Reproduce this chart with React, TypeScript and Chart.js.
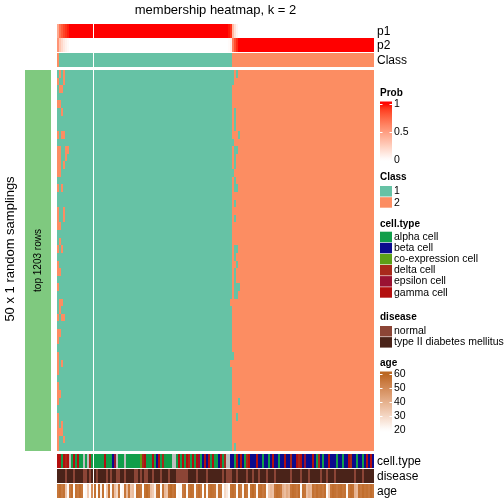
import React, { useEffect, useRef } from "react";
import { Chart, registerables } from "chart.js";

Chart.register(...registerables);

const FONT = "'Liberation Sans', Arial, Helvetica, sans-serif";

const TITLE = "membership heatmap, k = 2";
const ROW_TITLE = "50 x 1 random samplings";
const ROW_ANNO_LABEL = "top 1203 rows";
const N_SAMPLINGS = 50;

const TOP_LABELS = ["p1", "p2", "Class"];
const BOTTOM_LABELS = ["cell.type", "disease", "age"];

const CLASS_LABELS = ["1", "2"];
const CLASS_COLORS = ["#66C2A5", "#FC8D62"];

const CELL_TYPES = ["alpha cell", "beta cell", "co-expression cell", "delta cell", "epsilon cell", "gamma cell"];
const CELL_TYPE_CODES = ["a", "b", "c", "d", "e", "g"];
const CELL_TYPE_COLORS = ["#119E4A", "#0B0B8E", "#5C9F17", "#A8291B", "#9A1232", "#B30F0F"];
const NA_COLOR = "#BEBEBE";

const DISEASES = ["normal", "type II diabetes mellitus"];
const DISEASE_CODES = ["N", "T"];
const DISEASE_COLORS = ["#8C4536", "#4A2319"];

const PROB_TICKS = [1, 0.5, 0];
const AGE_TICKS = [60, 50, 40, 30, 20];
const AGE_RANGE = [20, 60];
const PROB_HIGH = [255, 0, 0];
const AGE_HIGH = [188, 103, 34];
const ROW_ANNO_COLOR = "#7FC97F";

// ---- column data (left group of 18 samples, right group of 140 samples) ----
const cellTypeLeft = "ggagdgnagagaananda";
const cellTypeRight =
  "aaaaagaaab" + "enaaanaaaa" + "aaacdgaaag" + "abgadaaaan" + "nagagagdag" +
  "ageabgbgag" + "aabgadnnbb" + "agbgbadgbb" + "bgbbabbabg" + "bbabbgbbdb" +
  "bgdgbebbbg" + "badbabbgbb" + "babbabbgdb" + "babbabgbgb";

const diseaseLeft = "TTTTNTTTNTTTTNNTNT";
const diseaseRight =
  "TNTTTTNTNT" + "TNNTTNTTTT" + "NNTNTNNTTN" + "TTTNTTTNTT" + "TNNNNNNTTT" +
  "TNTTTTNTTT" + "TTTTNTNNNT" + "TNTTTTNTTN" + "TTNTTTNTTT" + "NTTTTTTTNT" +
  "TTTNTTTNTT" + "TTTNTTNTTT" + "NTTTTTTTTT" + "NTTTNTTTTT";

const ageLeft = [56, 58, 55, 57, 35, 22, 55, 58, 21, 57, 55, 58, 56, 20, 22, 33, 21, 50];
const ageRight = [
  57, 21, 58, 23, 57, 20, 34, 58, 21, 55,
  36, 30, 56, 20, 22, 56, 38, 56, 35, 37,
  21, 58, 57, 55, 20, 57, 59, 56, 36, 33,
  23, 57, 58, 20, 56, 38, 35, 57, 59, 56,
  58, 20, 22, 21, 55, 57, 21, 56, 58, 57,
  22, 56, 58, 55, 20, 57, 21, 56, 58, 57,
  56, 24, 57, 56, 20, 30, 26, 21, 57, 58,
  56, 21, 57, 55, 22, 58, 56, 21, 57, 59,
  56, 22, 57, 58, 55, 57, 21, 34, 38, 36,
  56, 58, 57, 55, 40, 37, 42, 39, 56, 58,
  57, 55, 58, 21, 57, 56, 36, 40, 38, 57,
  55, 58, 56, 57, 55, 58, 21, 33, 56, 58,
  57, 55, 57, 58, 56, 57, 22, 56, 58, 57,
  40, 38, 57, 55, 58, 56, 57, 55, 58, 56,
];

// membership probability of class 1 (p2 = 1 - p1)
const p1Left = [0.45, 0.7, 0.8, 0.88, 0.93, 0.97, 1, 1, 1, 1, 1, 1, 1, 1, 1, 1, 1, 1];
const p1Right = [
  1, 1, 1, 1, 1, 1, 1, 1, 1, 1,
  1, 1, 1, 1, 1, 1, 1, 1, 1, 1,
  1, 1, 1, 1, 1, 1, 1, 1, 1, 1,
  1, 1, 1, 1, 1, 1, 1, 1, 1, 1,
  1, 1, 1, 1, 1, 1, 1, 1, 1, 1,
  1, 1, 1, 1, 1, 1, 1, 1, 1, 1,
  1, 1, 1, 1, 1, 1, 1, 0.98, 0.93, 0.35,
  0.15, 0.05, 0, 0, 0, 0, 0, 0, 0, 0,
  0, 0, 0, 0, 0, 0, 0, 0, 0, 0,
  0, 0, 0, 0, 0, 0, 0, 0, 0, 0,
  0, 0, 0, 0, 0, 0, 0, 0, 0, 0,
  0, 0, 0, 0, 0, 0, 0, 0, 0, 0,
  0, 0, 0, 0, 0, 0, 0, 0, 0, 0,
  0, 0, 0, 0, 0, 0, 0, 0, 0, 0,
];

// per sampling (row): sample indices whose class differs from the consensus class
const rowFlips = [
  [0, 1, 3, 87, 89], [3, 87], [0, 1, 2], [0], [1],
  [0, 2, 88], [0, 88], [0, 88], [2, 3, 90], [0, 87],
  [1, 4, 5, 88, 89], [1, 4, 88], [1, 3, 88], [1, 87], [0, 88],
  [2, 88, 89], [0], [0, 88], [3], [3, 88],
  [1], [0], [0, 1], [2, 88, 89], [0, 88],
  [89], [1, 88], [0, 88], [88, 89, 90], [0, 88, 89],
  [0, 1, 2, 86], [0, 1], [2, 3], [0], [1],
  [], [0], [87], [2, 86], [],
  [0], [], [1], [90], [0],
  [89], [2], [1, 2], [3], [88],
];

// ---- layout (pixels) ----
const LAYOUT = {
  left: 57,
  right: 374,
  p1: [24, 38],
  p2: [38, 52],
  cls: [53, 67],
  body: [70, 451],
  cellType: [454, 468],
  disease: [469, 483],
  age: [484, 498],
};

// ---- colour helpers (LAB interpolation like colorRamp2) ----
function toLin(c: number) {
  c /= 255;
  return c <= 0.04045 ? c / 12.92 : Math.pow((c + 0.055) / 1.055, 2.4);
}
function fromLin(c: number) {
  const v = c <= 0.0031308 ? 12.92 * c : 1.055 * Math.pow(c, 1 / 2.4) - 0.055;
  return Math.max(0, Math.min(255, Math.round(v * 255)));
}
const WN = [0.95047, 1, 1.08883];
function rgbToLab(rgb: number[]) {
  const [r, g, b] = rgb.map(toLin);
  const X = (0.4124 * r + 0.3576 * g + 0.1805 * b) / WN[0];
  const Y = (0.2126 * r + 0.7152 * g + 0.0722 * b) / WN[1];
  const Z = (0.0193 * r + 0.1192 * g + 0.9505 * b) / WN[2];
  const f = (t: number) => (t > 0.008856 ? Math.cbrt(t) : 7.787 * t + 16 / 116);
  const fx = f(X), fy = f(Y), fz = f(Z);
  return [116 * fy - 16, 500 * (fx - fy), 200 * (fy - fz)];
}
function labToRgb(lab: number[]) {
  const [L, a, b] = lab;
  const fy = (L + 16) / 116;
  const fx = fy + a / 500;
  const fz = fy - b / 200;
  const inv = (t: number) => (t * t * t > 0.008856 ? t * t * t : (t - 16 / 116) / 7.787);
  const X = inv(fx) * WN[0], Y = inv(fy) * WN[1], Z = inv(fz) * WN[2];
  const r = 3.2406 * X - 1.5372 * Y - 0.4986 * Z;
  const g = -0.9689 * X + 1.8758 * Y + 0.0415 * Z;
  const bb = 0.0557 * X - 0.204 * Y + 1.057 * Z;
  return [fromLin(r), fromLin(g), fromLin(bb)];
}
const WHITE_LAB = rgbToLab([255, 255, 255]);
function ramp(high: number[], t: number) {
  const tt = Math.max(0, Math.min(1, t));
  const hl = rgbToLab(high);
  const m = WHITE_LAB.map((w, i) => w + (hl[i] - w) * tt);
  const [r, g, b] = labToRgb(m);
  return `rgb(${r},${g},${b})`;
}
const probColor = (p: number) => ramp(PROB_HIGH, p);
const ageColor = (a: number) => ramp(AGE_HIGH, (a - AGE_RANGE[0]) / (AGE_RANGE[1] - AGE_RANGE[0]));

// ---- assembled columns ----
const cellTypes = (cellTypeLeft + cellTypeRight).split("");
const diseases = (diseaseLeft + diseaseRight).split("");
const ages = [...ageLeft, ...ageRight];
const p1 = [...p1Left, ...p1Right];
const p2 = p1.map((v) => 1 - v);
const consensus = p1.map((v) => (v >= 0.5 ? 1 : 2));
const nLeft = p1Left.length;
const xPos = p1.map((_, i) => (i < nLeft ? i : i + 0.5));

function band(range: number[], colors: string[]) {
  return {
    type: "bar" as const,
    data: xPos.map((x) => ({ x, y: [range[0], range[1]] })),
    backgroundColor: colors,
    borderWidth: 0,
    grouped: false,
    barPercentage: 1,
    categoryPercentage: 1,
    inflateAmount: 0,
  };
}

function buildDatasets() {
  const ds: any[] = [];
  ds.push(band(LAYOUT.p1, p1.map(probColor)));
  ds.push(band(LAYOUT.p2, p2.map(probColor)));
  ds.push(band(LAYOUT.cls, consensus.map((c) => CLASS_COLORS[c - 1])));
  const [b0, b1] = LAYOUT.body;
  const rh = (b1 - b0) / N_SAMPLINGS;
  for (let r = 0; r < N_SAMPLINGS; r++) {
    const y0 = Math.round(b0 + r * rh);
    const y1 = Math.round(b0 + (r + 1) * rh);
    const flips = rowFlips[r];
    const colors = consensus.map((c, i) => {
      const cls = flips.includes(i) ? 3 - c : c;
      return CLASS_COLORS[cls - 1];
    });
    ds.push(band([y0, y1], colors));
  }
  ds.push(
    band(
      LAYOUT.cellType,
      cellTypes.map((c) => {
        const k = CELL_TYPE_CODES.indexOf(c);
        return k >= 0 ? CELL_TYPE_COLORS[k] : NA_COLOR;
      })
    )
  );
  ds.push(band(LAYOUT.disease, diseases.map((d) => DISEASE_COLORS[DISEASE_CODES.indexOf(d)])));
  ds.push(band(LAYOUT.age, ages.map(ageColor)));
  return ds;
}

const decorPlugin = {
  id: "heatmapDecor",
  afterDraw(chart: any) {
    const ctx: CanvasRenderingContext2D = chart.ctx;
    const xs = chart.scales.x;
    ctx.save();
    ctx.fillStyle = "#000";

    // title
    ctx.font = `13px ${FONT}`;
    ctx.textAlign = "center";
    ctx.textBaseline = "middle";
    ctx.fillText(TITLE, (xs.left + xs.right) / 2, 10);

    // annotation names
    ctx.font = `12px ${FONT}`;
    ctx.textAlign = "left";
    const lx = xs.right + 3;
    const tops = [LAYOUT.p1, LAYOUT.p2, LAYOUT.cls];
    TOP_LABELS.forEach((t, i) => ctx.fillText(t, lx, (tops[i][0] + tops[i][1]) / 2 + 0.5));
    const bots = [LAYOUT.cellType, LAYOUT.disease, LAYOUT.age];
    BOTTOM_LABELS.forEach((t, i) => ctx.fillText(t, lx, (bots[i][0] + bots[i][1]) / 2 + 0.5));

    // row annotation bar
    const [b0, b1] = LAYOUT.body;
    ctx.fillStyle = ROW_ANNO_COLOR;
    ctx.fillRect(25, b0, 26, b1 - b0);
    ctx.fillStyle = "#000";
    ctx.save();
    ctx.translate(38, (b0 + b1) / 2);
    ctx.rotate(-Math.PI / 2);
    ctx.font = `10px ${FONT}`;
    ctx.textAlign = "center";
    ctx.fillText(ROW_ANNO_LABEL, 0, 0);
    ctx.restore();
    ctx.save();
    ctx.translate(10, 249);
    ctx.rotate(-Math.PI / 2);
    ctx.font = `13px ${FONT}`;
    ctx.textAlign = "center";
    ctx.fillText(ROW_TITLE, 0, 0);
    ctx.restore();

    // legends
    const gx = 380, gw = 12, tx = 394;
    const title = (t: string, y: number) => {
      ctx.font = `bold 10px ${FONT}`;
      ctx.textAlign = "left";
      ctx.fillStyle = "#000";
      ctx.fillText(t, gx, y);
    };
    const label = (t: string, y: number) => {
      ctx.font = `10.5px ${FONT}`;
      ctx.textAlign = "left";
      ctx.fillStyle = "#000";
      ctx.fillText(t, tx, y);
    };
    const gradientBar = (top: number, bottom: number, yOf: (v: number) => number, vOf: (y: number) => number, colorOf: (v: number) => string, ticks: number[]) => {
      const g = ctx.createLinearGradient(0, top, 0, bottom);
      for (let s = 0; s <= 20; s++) {
        const y = top + ((bottom - top) * s) / 20;
        g.addColorStop(s / 20, colorOf(vOf(y)));
      }
      ctx.fillStyle = g;
      ctx.fillRect(gx, top, gw, bottom - top);
      ctx.strokeStyle = "#fff";
      ctx.lineWidth = 1;
      ticks.forEach((v, i) => {
        const y = Math.round(yOf(v)) + 0.5;
        if (i < ticks.length - 1) {
          ctx.beginPath();
          ctx.moveTo(gx, y); ctx.lineTo(gx + 2.5, y);
          ctx.moveTo(gx + gw - 2.5, y); ctx.lineTo(gx + gw, y);
          ctx.stroke();
        }
        label(String(v), yOf(v));
      });
    };

    // Prob
    title("Prob", 93);
    const pY = (v: number) => 160 - v * 56;
    const pV = (y: number) => (160 - y) / 56;
    gradientBar(101.5, 161, pY, pV, probColor, PROB_TICKS);

    // Class
    title("Class", 177);
    CLASS_LABELS.forEach((t, i) => {
      const y0 = 186 + i * 11.2;
      ctx.fillStyle = CLASS_COLORS[i];
      ctx.fillRect(gx, y0, gw, 10.5);
      label(t, y0 + 5.5);
    });

    // cell.type
    title("cell.type", 224);
    CELL_TYPES.forEach((t, i) => {
      const y0 = 231.7 + i * 11.1;
      ctx.fillStyle = CELL_TYPE_COLORS[i];
      ctx.fillRect(gx, y0, gw, 10.5);
      label(t, y0 + 5.5);
    });

    // disease
    title("disease", 317);
    DISEASES.forEach((t, i) => {
      const y0 = 326 + i * 11.1;
      ctx.fillStyle = DISEASE_COLORS[i];
      ctx.fillRect(gx, y0, gw, 10.5);
      label(t, y0 + 5.5);
    });

    // age
    title("age", 363);
    const aY = (v: number) => 374.3 + (60 - v) * 1.4;
    const aV = (y: number) => 60 - (y - 374.3) / 1.4;
    gradientBar(371.5, 432, aY, aV, ageColor, AGE_TICKS);

    ctx.restore();
  },
};

export default function App() {
  const ref = useRef<HTMLCanvasElement | null>(null);
  useEffect(() => {
    if (!ref.current) return;
    const chart = new Chart(ref.current, {
      type: "bar",
      data: { datasets: buildDatasets() },
      options: {
        responsive: false,
        animation: false,
        devicePixelRatio: 1,
        events: [],
        layout: { padding: { left: LAYOUT.left, right: 504 - LAYOUT.right, top: 0, bottom: 0 } },
        plugins: { legend: { display: false }, tooltip: { enabled: false }, title: { display: false } },
        scales: {
          x: {
            type: "linear",
            min: -0.5,
            max: xPos[xPos.length - 1] + 0.5,
            offset: false,
            display: false,
            afterBuildTicks: (axis: any) => {
              axis.ticks = [{ value: axis.min }, { value: axis.max }];
            },
          },
          y: {
            type: "linear",
            min: 0,
            max: 504,
            reverse: true,
            display: false,
            afterBuildTicks: (axis: any) => {
              axis.ticks = [{ value: axis.min }, { value: axis.max }];
            },
          },
        },
      } as any,
      plugins: [decorPlugin],
    });
    return () => chart.destroy();
  }, []);
  return (
    <div style={{ position: "absolute", left: 0, top: 0, width: 504, height: 504, background: "#fff" }}>
      <canvas ref={ref} width={504} height={504} style={{ display: "block" }} />
    </div>
  );
}
